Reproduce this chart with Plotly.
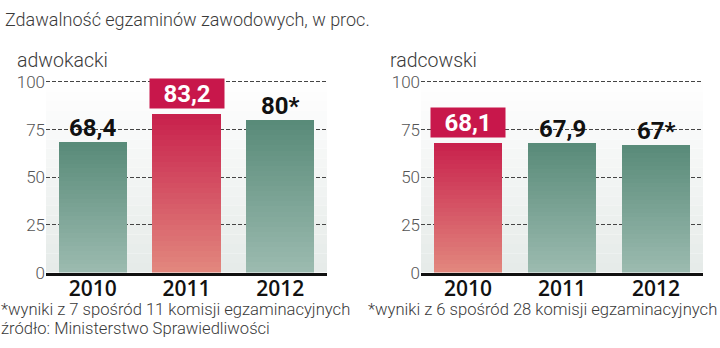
import plotly.graph_objects as go

# ---- data ----
years = ["2010", "2011", "2012"]
adwokacki_vals = [68.4, 83.2, 80.0]
adwokacki_labels = ["68,4", "83,2", "80*"]
adwokacki_highlight = [False, True, False]
radcowski_vals = [68.1, 67.9, 67.0]
radcowski_labels = ["68,1", "67,9", "67*"]
radcowski_highlight = [True, False, False]
y_ticks = [0, 25, 50, 75, 100]

title_text = "Zdawalność egzaminów zawodowych, w proc."
panel_titles = ["adwokacki", "radcowski"]
footnote_left = "*wyniki z 7 spośród 11 komisji egzaminacyjnych"
footnote_right = "*wyniki z 6 spośród 28 komisji egzaminacyjnych"
source_text = "źródło: Ministerstwo Sprawiedliwości"

# ---- style ----
W, H = 720, 348
GREEN_TOP, GREEN_BOT = (88, 138, 120), (156, 187, 176)
RED_TOP, RED_BOT = (200, 32, 76), (226, 136, 126)
LABEL_BOX = "#c8174b"
BOLD = "Roboto, sans-serif"
LIGHT = "Roboto, sans-serif"
TXT = "#3a3a3a"
N_SEG = 30


def lerp(c1, c2, t):
    return "rgb(%d,%d,%d)" % tuple(round(a + (b - a) * t) for a, b in zip(c1, c2))


def px_x(p):
    return p / W


def px_y(p):
    return 1 - p / H


fig = go.Figure()

panels = [
    (adwokacki_vals, adwokacki_labels, adwokacki_highlight, "x", "y"),
    (radcowski_vals, radcowski_labels, radcowski_highlight, "x2", "y2"),
]

annotations = []
shapes = []
for vals, labels, hl, xa, ya in panels:
    # gradient bars as stacked segments
    for i in range(N_SEG):
        t = (i + 0.5) / N_SEG
        colors = [lerp(RED_BOT, RED_TOP, t) if h else lerp(GREEN_BOT, GREEN_TOP, t) for h in hl]
        fig.add_trace(go.Bar(
            x=years, y=[v / N_SEG for v in vals], marker=dict(color=colors, line=dict(width=0)),
            xaxis=xa, yaxis=ya, showlegend=False, hoverinfo="skip",
        ))
    # value labels
    for k, (v, lab, h) in enumerate(zip(vals, labels, hl)):
        if h:
            annotations.append(dict(
                x=k, y=v, xref=xa, yref=ya, text="<b>%s</b>" % lab, showarrow=False,
                yanchor="bottom", yshift=5, font=dict(family=BOLD, size=24, color="white"),
                bgcolor=LABEL_BOX, width=70, height=25, borderpad=2,
            ))
        else:
            annotations.append(dict(
                x=k, y=v, xref=xa, yref=ya, text="<b>%s</b>" % lab, showarrow=False,
                yanchor="bottom", yshift=-2, font=dict(family=BOLD, size=24, color="#111"),
            ))
    # background gradient bands
    nb = 20
    for j in range(nb):
        shapes.append(dict(
            type="rect", xref=xa + " domain", yref=ya, x0=0, x1=1,
            y0=100 * j / nb, y1=100 * (j + 1) / nb, layer="below", line=dict(width=0),
            fillcolor=lerp((229, 234, 232), (255, 255, 255), (j + 0.5) / nb),
        ))

fig.update_layout(barmode="stack", bargap=0.27)


def note(text, x, y, size, anchor="left"):
    annotations.append(dict(x=px_x(x), y=px_y(y), xref="paper", yref="paper", xanchor=anchor,
                            yanchor="middle", text=text, showarrow=False,
                            font=dict(family=LIGHT, size=size, color=TXT, weight=300)))


note(title_text, 3, 12, 18)
note(panel_titles[0], 15, 55, 19.5)
note(panel_titles[1], 388, 55, 19.5)
note(footnote_left, -1, 318, 16.6)
note(footnote_right, 366, 318, 16.6)
note(source_text, -1, 338, 16.6)

YMAX = 101
ydom = [px_y(279), px_y(279 - 201 * YMAX / 100)]
xaxis_common = dict(type="category", showgrid=False, showline=True, linewidth=3, linecolor="#111",
                    ticks="", ticklen=0, ticklabelstandoff=-5,
                    tickfont=dict(family="Open Sans, sans-serif", size=21, color="#111", weight=600),
                    range=[-0.5, 2.5], fixedrange=True)
yaxis_common = dict(range=[0, YMAX], tickvals=y_ticks, showgrid=True, gridcolor="#444", gridwidth=1,
                    griddash="4px,2px", zeroline=False, showline=False, ticks="",
                    tickfont=dict(family=LIGHT, size=17, color="#555", weight=300), domain=ydom,
                    fixedrange=True)

fig.update_layout(
    width=W, height=H, margin=dict(l=0, r=0, t=0, b=0),
    paper_bgcolor="white", plot_bgcolor="white",
    xaxis=dict(domain=[px_x(46), px_x(327)], anchor="y", **xaxis_common),
    yaxis=dict(anchor="x", **yaxis_common),
    xaxis2=dict(domain=[px_x(421), px_x(703)], anchor="y2", **xaxis_common),
    yaxis2=dict(anchor="x2", **yaxis_common),
    annotations=annotations, shapes=shapes,
)

fig.write_html("out.html")
